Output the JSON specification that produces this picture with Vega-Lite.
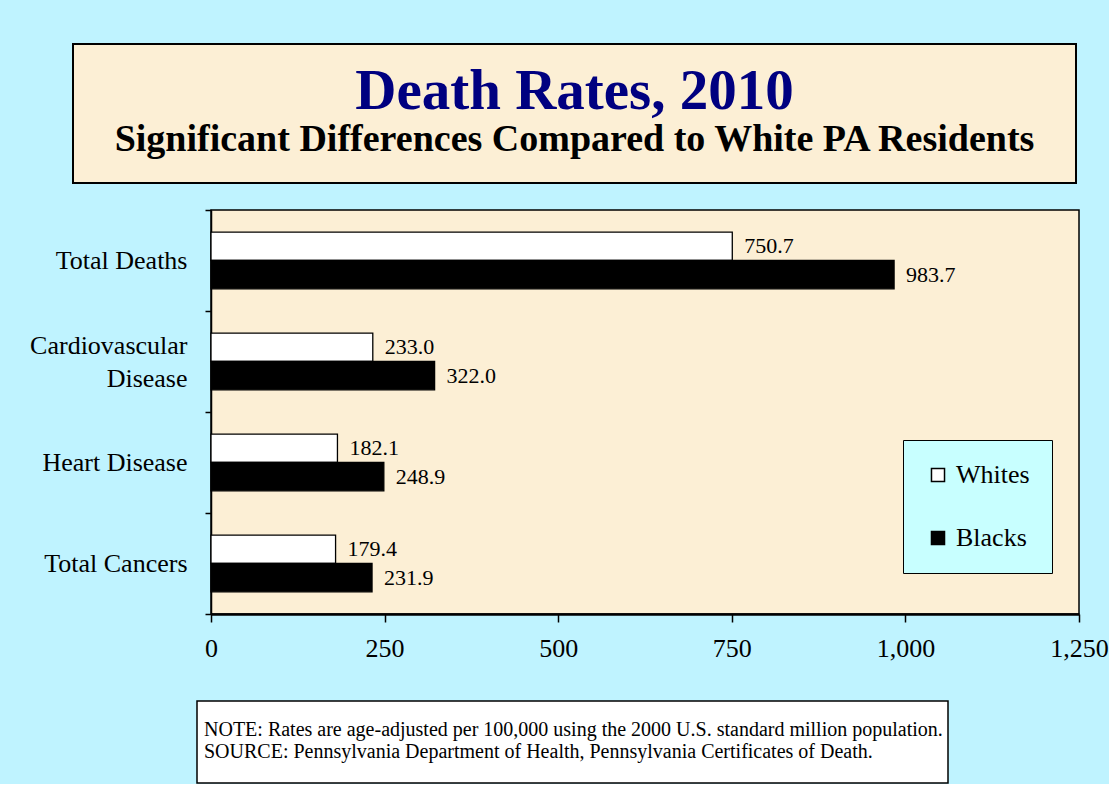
{
  "$schema": "https://vega.github.io/schema/vega-lite/v6.json",
  "background": "#BFF3FF",
  "padding": {"left": 27, "top": 43, "right": 0, "bottom": 0},
  "config": {
    "view": {"stroke": null},
    "font": "Liberation Serif"
  },
  "spacing": 12,
  "resolve": {"legend": {"color": "independent"}, "scale": {"color": "independent"}},
  "vconcat": [
    {
      "spacing": 0,
      "hconcat": [
        {"width": 45, "height": 10, "data": {"values": []}, "mark": "point"},
        {
          "width": 1003,
          "height": 139,
          "view": {"fill": "#FCEFD5", "stroke": "black", "strokeWidth": 2},
          "data": {"values": []},
          "mark": "point",
          "title": {
            "text": "Death Rates, 2010",
            "subtitle": "Significant Differences Compared to White PA Residents",
            "anchor": "middle",
            "frame": "group",
            "orient": "top",
            "offset": -116,
            "font": "Liberation Serif",
            "fontSize": 57,
            "fontWeight": "bold",
            "color": "#000080",
            "subtitleFont": "Liberation Serif",
            "subtitleFontSize": 38,
            "subtitleFontWeight": "bold",
            "subtitleColor": "black",
            "subtitlePadding": 0
          }
        }
      ]
    },
    {
      "spacing": 0,
      "hconcat": [
        {"width": 1, "height": 10, "data": {"values": []}, "mark": "point"},
        {
          "width": 868,
          "height": 404,
          "view": {"fill": "#FCEFD5", "stroke": "black", "strokeWidth": 1.5},
          "data": {
            "values": [
              {"cause": "Total Deaths", "group": "Whites", "value": 750.7},
              {"cause": "Total Deaths", "group": "Blacks", "value": 983.7},
              {"cause": "Cardiovascular Disease", "group": "Whites", "value": 233.0},
              {"cause": "Cardiovascular Disease", "group": "Blacks", "value": 322.0},
              {"cause": "Heart Disease", "group": "Whites", "value": 182.1},
              {"cause": "Heart Disease", "group": "Blacks", "value": 248.9},
              {"cause": "Total Cancers", "group": "Whites", "value": 179.4},
              {"cause": "Total Cancers", "group": "Blacks", "value": 231.9}
            ]
          },
          "encoding": {
            "y": {
              "field": "cause",
              "type": "nominal",
              "sort": ["Total Deaths", "Cardiovascular Disease", "Heart Disease", "Total Cancers"],
              "scale": {"paddingInner": 0, "paddingOuter": 0},
              "axis": {
                "title": null,
                "labelFontSize": 26,
                "labelColor": "black",
                "labelFont": "Liberation Serif",
                "labelPadding": 18,
                "labelLineHeight": 33,
                "labelOffset": {"condition": {"test": "datum.value == 'Cardiovascular Disease'", "value": -16}, "value": 0},
                "labelExpr": "datum.value == 'Cardiovascular Disease' ? ['Cardiovascular', 'Disease'] : datum.value",
                "tickBand": "extent",
                "tickSize": 6,
                "tickColor": "black",
                "tickWidth": 1.5,
                "domainColor": "black",
                "domainWidth": 1.5
              }
            },
            "x": {
              "field": "value",
              "type": "quantitative",
              "scale": {"domain": [0, 1250], "nice": false},
              "axis": {
                "title": null,
                "values": [0, 250, 500, 750, 1000, 1250],
                "format": ",d",
                "grid": false,
                "labelFontSize": 26,
                "labelColor": "black",
                "labelFont": "Liberation Serif",
                "labelFlush": false,
                "labelPadding": 13,
                "tickSize": 8,
                "tickColor": "black",
                "tickWidth": 1.5,
                "domainColor": "black",
                "domainWidth": 2.5
              }
            },
            "yOffset": {
              "field": "group",
              "type": "nominal",
              "sort": ["Whites", "Blacks"],
              "scale": {"paddingInner": 0, "paddingOuter": 0.785}
            }
          },
          "layer": [
            {
              "mark": {"type": "bar", "stroke": "black", "strokeWidth": 1.3},
              "encoding": {
                "color": {
                  "field": "group",
                  "type": "nominal",
                  "sort": ["Whites", "Blacks"],
                  "scale": {"domain": ["Whites", "Blacks"], "range": ["#FFFFFF", "#000000"]},
                  "legend": {
                    "title": null,
                    "orient": "none",
                    "legendX": 876,
                    "legendY": 230,
                    "fillColor": "#C8FFFF",
                    "strokeColor": "black",
                    "padding": 22,
                    "symbolType": "square",
                    "symbolSize": 170,
                    "symbolStrokeColor": "black",
                    "symbolStrokeWidth": 1.5,
                    "labelFontSize": 26,
                    "labelFont": "Liberation Serif",
                    "labelColor": "black",
                    "labelOffset": 5,
                    "rowPadding": 37
                  }
                }
              }
            },
            {
              "mark": {"type": "text", "align": "left", "baseline": "middle", "dx": 12, "fontSize": 22, "font": "Liberation Serif", "color": "black"},
              "encoding": {
                "text": {"field": "value", "type": "quantitative", "format": ".1f"}
              }
            }
          ]
        }
      ]
    },
    {
      "spacing": 0,
      "vconcat": [
        {"width": 10, "height": 26, "data": {"values": []}, "mark": "point"},
        {
          "spacing": 0,
          "hconcat": [
            {"width": 169, "height": 10, "data": {"values": []}, "mark": "point"},
            {
              "width": 751,
              "height": 82,
              "view": {"fill": "white", "stroke": "black", "strokeWidth": 1.5},
              "data": {"values": []},
              "mark": "point",
              "title": {
                "text": ["NOTE: Rates are age-adjusted per 100,000 using the 2000 U.S. standard million population.", "SOURCE: Pennsylvania Department of Health, Pennsylvania Certificates of Death."],
                "anchor": "start",
                "frame": "group",
                "orient": "top",
                "offset": -61,
                "dx": 7,
                "font": "Liberation Serif",
                "fontSize": 20,
                "fontWeight": "normal",
                "lineHeight": 22,
                "color": "black"
              }
            }
          ]
        }
      ]
    }
  ]
}
